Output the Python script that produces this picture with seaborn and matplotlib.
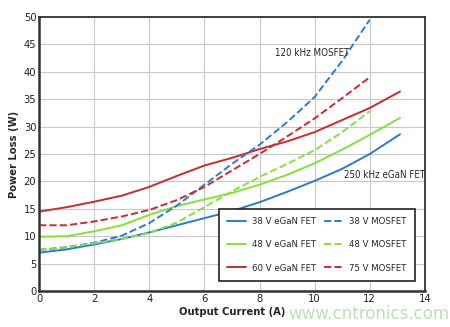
import matplotlib
matplotlib.use('Agg')
import matplotlib.pyplot as plt
import seaborn as sns
import pandas as pd

# Output current (A) sample points
x_egan = [0, 1, 2, 3, 4, 5, 6, 7, 8, 9, 10, 11, 12, 13.1]
x_mos = [0, 1, 2, 3, 4, 5, 6, 7, 8, 9, 10, 11, 12]

# Power loss (W)
egan_38 = [7.0, 7.6, 8.5, 9.5, 10.7, 12.0, 13.3, 14.6, 16.2, 18.1, 20.1, 22.3, 25.0, 28.6]
egan_48 = [9.9, 10.0, 10.9, 12.0, 13.9, 15.5, 16.7, 17.9, 19.4, 21.2, 23.3, 25.8, 28.5, 31.6]
egan_60 = [14.5, 15.3, 16.3, 17.4, 19.0, 21.0, 22.9, 24.3, 25.9, 27.3, 29.0, 31.2, 33.4, 36.4]
mos_38 = [7.5, 8.0, 8.8, 10.1, 12.4, 15.6, 19.4, 23.2, 26.7, 30.8, 35.4, 42.0, 49.5]
mos_48 = [7.5, 8.0, 8.7, 9.5, 10.6, 12.5, 15.3, 18.2, 20.8, 23.2, 25.7, 29.0, 32.8]
mos_75 = [12.0, 12.0, 12.7, 13.6, 14.8, 16.6, 19.0, 22.0, 25.0, 28.2, 31.5, 35.2, 39.0]

blue = '#2a7bd0'
green = '#86e03a'
red = '#cc2a2e'

series = [
    ('38 V eGaN FET', x_egan, egan_38, blue, '-'),
    ('48 V eGaN FET', x_egan, egan_48, green, '-'),
    ('60 V eGaN FET', x_egan, egan_60, red, '-'),
    ('38 V MOSFET', x_mos, mos_38, blue, '--'),
    ('48 V MOSFET', x_mos, mos_48, green, '--'),
    ('75 V MOSFET', x_mos, mos_75, red, '--'),
]

sns.set_theme(style='whitegrid')
plt.rcParams['font.family'] = ['DejaVu Sans']
plt.rcParams['font.stretch'] = 'condensed'

fig, ax = plt.subplots(figsize=(4.5, 3.27), dpi=100)
fig.subplots_adjust(left=0.087, right=0.944, top=0.948, bottom=0.110)

for name, xs, ys, col, ls in series:
    df = pd.DataFrame({'I': xs, 'P': ys})
    sns.lineplot(data=df, x='I', y='P', ax=ax, color=col, linestyle=ls,
                 linewidth=1.4, label=name,
                 dashes=(4, 3) if ls == '--' else None)

ax.set_xlim(0, 14)
ax.set_ylim(0, 50)
ax.set_xticks(range(0, 15, 2))
ax.set_yticks(range(0, 51, 5))
ax.tick_params(labelsize=8, pad=2, length=0, colors='#222222')
ax.grid(color='#c8c8c8', linewidth=0.8)
for s in ax.spines.values():
    s.set_color('#333333')
    s.set_linewidth(1.3)
ax.spines['left'].set_linewidth(1.8)
ax.spines['bottom'].set_linewidth(1.8)

ax.set_xlabel('Output Current (A)', fontsize=8, fontweight='bold', labelpad=2)
ax.set_ylabel('Power Loss (W)', fontsize=8, fontweight='bold', labelpad=3)

ax.text(8.55, 43.4, '120 kHz MOSFET', fontsize=7, ha='left', va='center')
ax.text(11.05, 21.2, '250 kHz eGaN FET', fontsize=7, ha='left', va='center')

handles, labels = ax.get_legend_handles_labels()
leg = ax.legend(handles, labels, ncol=2, loc='lower right',
                bbox_to_anchor=(0.974, 0.036), borderaxespad=0,
                fontsize=6.8, handlelength=2.0, handletextpad=0.6,
                frameon=True, fancybox=False, framealpha=1,
                borderpad=0.9, labelspacing=1.5, columnspacing=0.9)
leg.get_frame().set_edgecolor('#222222')
leg.get_frame().set_linewidth(1.2)

fig.text(0.64, 0.025, 'www.cntronics.com', fontsize=12, color='#9fd394',
         alpha=0.7, family='DejaVu Sans', stretch='normal')

fig.savefig('out.png', dpi=100, facecolor='white')
